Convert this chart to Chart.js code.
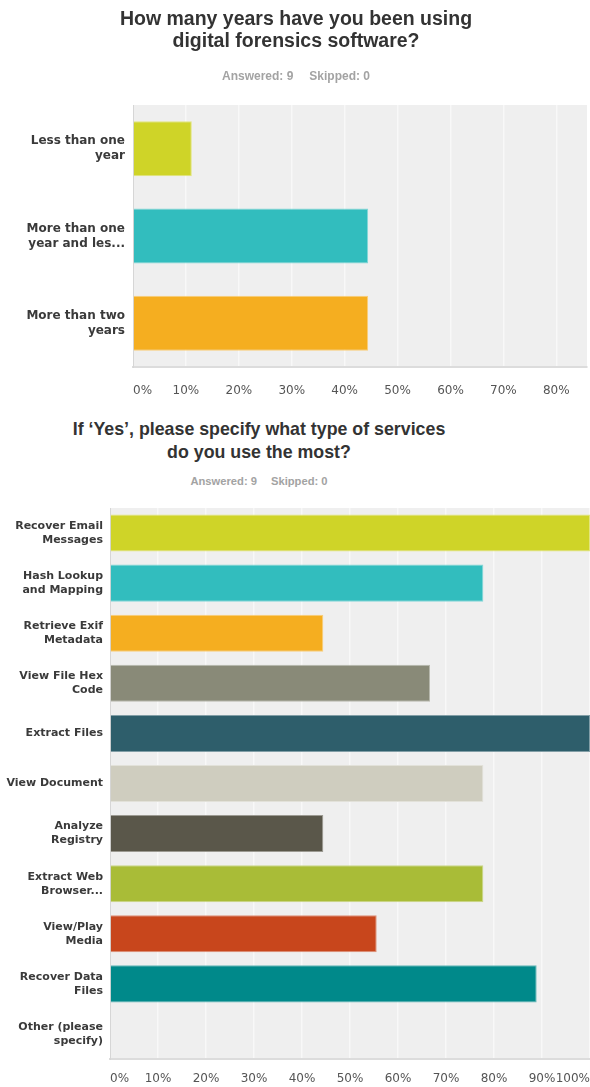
<!DOCTYPE html>
<html>
<head>
<meta charset="utf-8">
<script src="https://cdn.jsdelivr.net/npm/chart.js@4/dist/chart.umd.min.js"></script>
<style>
  html, body { margin: 0; padding: 0; background: #fff; }
  body { width: 590px; height: 1087px; position: relative; overflow: hidden; }
  canvas { position: absolute; left: 0; display: block; }
  .title { position: absolute; left: 0; text-align: center; font-family: "Liberation Sans", Arial, sans-serif;
           font-weight: bold; font-size: 19.5px; line-height: 22px; color: #333; }
  .sub { position: absolute; left: 0; text-align: center; font-family: "Liberation Sans", Arial, sans-serif;
         font-weight: bold; font-size: 12px; line-height: 14px; color: #a3a3a3; }
  .sub span + span { margin-left: 16px; }
</style>
</head>
<body>
<canvas id="c1" width="590" height="400" style="top:0"></canvas>
<canvas id="c2" width="590" height="587" style="top:500px"></canvas>

<div class="title" style="top:7px;width:592px">How many years have you been using<br>digital forensics software?</div>
<div class="sub" style="top:69px;width:592px"><span>Answered: 9</span><span>Skipped: 0</span></div>

<div class="title" style="top:418px;width:518px;line-height:23px;font-size:17.8px">If ‘Yes’, please specify what type of services<br>do you use the most?</div>
<div class="sub" style="top:474px;width:518px;font-size:11.2px"><span>Answered: 9</span><span style="margin-left:14px">Skipped: 0</span></div>

<script>
// ---------- data ----------
const topCategories = ["Less than one\nyear", "More than one\nyear and les...", "More than two\nyears"];
const topValues = [11.11, 44.44, 44.44];
const topTicks = [0, 10, 20, 30, 40, 50, 60, 70, 80];
const topAxisMax = 85.8;

const bottomCategories = [
  "Recover Email\nMessages", "Hash Lookup\nand Mapping", "Retrieve Exif\nMetadata", "View File Hex\nCode",
  "Extract Files", "View Document", "Analyze\nRegistry", "Extract Web\nBrowser...", "View/Play\nMedia",
  "Recover Data\nFiles", "Other (please\nspecify)"
];
const bottomValues = [100, 77.78, 44.44, 66.67, 100, 77.78, 44.44, 77.78, 55.56, 88.89, 0];
const bottomTicks = [0, 10, 20, 30, 40, 50, 60, 70, 80, 90, 100];
const bottomAxisMax = 100;

// ---------- styles ----------
const topColors = ['#cfd428', '#32bdbe', '#f5ae20'];
const bottomColors = ['#cfd428', '#32bdbe', '#f5ae20', '#898a78', '#2e5e6b', '#cfcdbf',
                      '#5a574a', '#a9bc37', '#c8461c', '#00898a', '#8fb9c7'];

function lighten(hex, f) {
  const n = parseInt(hex.slice(1), 16);
  const r = (n >> 16) & 255, g = (n >> 8) & 255, b = n & 255;
  const m = c => Math.round(c + (255 - c) * f);
  return 'rgb(' + m(r) + ',' + m(g) + ',' + m(b) + ')';
}

const plotBg = {
  id: 'plotBg',
  beforeDraw(chart) {
    const { ctx, chartArea: a } = chart;
    ctx.save();
    ctx.fillStyle = '#efefef';
    ctx.fillRect(a.left, a.top, a.right - a.left, a.bottom - a.top);
    ctx.restore();
  }
};

const edgeLabels = {
  id: 'edgeLabels',
  beforeDraw(chart, args, opts) {
    const s = chart.scales.x;
    const items = s.getLabelItems();
    if (!items || !items.length) return;
    items[0].options.textAlign = 'left';
    if (opts.alignLast) items[items.length - 1].options.textAlign = 'right';
  }
};

function makeChart(id, cats, vals, colors, ticks, max, o) {
  return new Chart(document.getElementById(id), {
    type: 'bar',
    data: {
      labels: cats.map(c => c.includes('\n') ? c.split('\n') : c),
      datasets: [{
        data: vals,
        backgroundColor: colors,
        borderColor: colors.map(c => lighten(c, 0.4)),
        borderWidth: 1,
        barPercentage: o.barPct,
        categoryPercentage: 1
      }]
    },
    options: {
      indexAxis: 'y',
      responsive: false,
      animation: false,
      devicePixelRatio: 1,
      layout: { padding: { top: o.padTop, right: o.padRight, left: 0, bottom: 0 } },
      plugins: {
        legend: { display: false },
        tooltip: { enabled: false },
        edgeLabels: { alignLast: o.alignLast }
      },
      scales: {
        x: {
          min: 0, max: max,
          afterBuildTicks: ax => { ax.ticks = ticks.map(v => ({ value: v })); },
          afterFit: sc => { sc.height = o.xH; sc.paddingLeft = 0; sc.paddingRight = 0; },
          ticks: {
            callback: v => v + '%',
            color: '#555',
            font: { family: 'DejaVu Sans', size: 12 },
            padding: o.xPad, maxRotation: 0, autoSkip: false
          },
          grid: {
            color: c => (c.tick && c.tick.value === 0) ? 'rgba(0,0,0,0)' : '#f8f8f8',
            lineWidth: 1.5,
            drawTicks: false
          },
          border: { display: true, color: '#dcdcdc', width: 2 }
        },
        y: {
          afterFit: sc => { sc.width = o.yW; sc.paddingTop = 0; sc.paddingBottom = 0; },
          ticks: {
            color: '#3a3a3a',
            font: { family: 'DejaVu Sans', weight: 'bold', size: o.yFont, lineHeight: o.yLH },
            padding: o.yPad, autoSkip: false
          },
          grid: { display: false, drawTicks: false },
          border: { display: true, color: '#d6d6d6', width: 1 }
        }
      }
    },
    plugins: [plotBg, edgeLabels]
  });
}

makeChart('c1', topCategories, topValues, topColors, topTicks, topAxisMax, {
  barPct: 0.63, padTop: 105, padRight: 3, xH: 33, xPad: 17, yW: 133, yPad: 8,
  yFont: 12, yLH: '15px', alignLast: false
});
makeChart('c2', bottomCategories, bottomValues, bottomColors, bottomTicks, bottomAxisMax, {
  barPct: 0.74, padTop: 8, padRight: 0, xH: 28, xPad: 13, yW: 110, yPad: 7,
  yFont: 11, yLH: '14px', alignLast: true
});
</script>
</body>
</html>
